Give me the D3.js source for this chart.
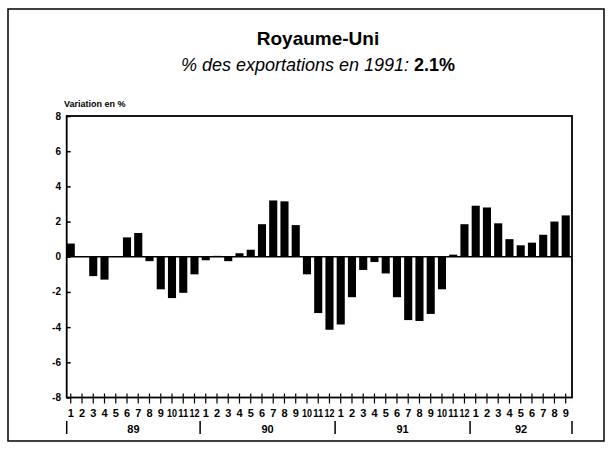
<html>
<head>
<script src="https://d3js.org/d3.v7.min.js"></script>
<style>
  body { margin: 0; background: #fff; }
  text { font-family: "Liberation Sans", Arial, sans-serif; }
</style>
</head>
<body>
<div id="chart"></div>
<script>
// monthly values, Jan 89 .. Sep 92
var years = ["89", "90", "91", "92"];
var monthsPerYear = [12, 12, 12, 9];
var values89 = [0.75, 0.0, -1.1, -1.3, 0.0, 1.1, 1.35, -0.25, -1.85, -2.35, -2.05, -1.0];
var values90 = [-0.2, 0.05, -0.25, 0.2, 0.4, 1.85, 3.2, 3.15, 1.8, -1.0, -3.2, -4.15];
var values91 = [-3.85, -2.3, -0.75, -0.3, -0.95, -2.3, -3.6, -3.65, -3.25, -1.85, 0.12, 1.85];
var values92 = [2.9, 2.8, 1.9, 1.0, 0.65, 0.8, 1.25, 2.0, 2.35];
var yTicks = [8, 6, 4, 2, 0, -2, -4, -6, -8];

// flatten into one list of bars
var data = [];
[values89, values90, values91, values92].forEach(function(vals, yi) {
  vals.forEach(function(v, mi) {
    data.push({ key: years[yi] + "-" + (mi + 1), year: years[yi], month: mi + 1, value: v });
  });
});

var W = 612, H = 451;
// note: "top" is taken by window.top, so plot edges get their own names
var plotLeft = 66.7, plotRight = 572, plotTop = 116, plotBottom = 397.5;

var svg = d3.select("#chart").append("svg")
  .attr("width", W)
  .attr("height", H);

// outer border
svg.append("rect")
  .attr("x", 8).attr("y", 9)
  .attr("width", 596).attr("height", 432)
  .attr("fill", "none")
  .attr("stroke", "#000")
  .attr("stroke-width", 1.5);

var x = d3.scaleBand()
  .domain(data.map(function(d) { return d.key; }))
  .range([plotLeft, plotRight])
  .paddingInner(0.28)
  .paddingOuter(0.1)
  .align(0);

var y = d3.scaleLinear().domain([-8, 8]).range([plotBottom, plotTop]);

// titles
svg.append("text")
  .attr("x", 318).attr("y", 45)
  .attr("text-anchor", "middle")
  .style("font-size", "19px").style("font-weight", "bold")
  .text("Royaume-Uni");

var sub = svg.append("text")
  .attr("x", 318).attr("y", 71)
  .attr("text-anchor", "middle")
  .style("font-size", "18px");
sub.append("tspan").style("font-style", "italic").text("% des exportations en 1991: ");
sub.append("tspan").style("font-weight", "bold").text("2.1%");

svg.append("text")
  .attr("x", 64).attr("y", 107)
  .style("font-size", "9px").style("font-weight", "bold")
  .text("Variation en %");

// bars
svg.selectAll("rect.bar")
  .data(data)
  .enter().append("rect")
  .attr("class", "bar")
  .attr("x", function(d) { return x(d.key); })
  .attr("width", x.bandwidth())
  .attr("y", function(d) { return y(Math.max(0, d.value)); })
  .attr("height", function(d) { return Math.abs(y(d.value) - y(0)); })
  .attr("fill", "#000");

// zero line
svg.append("line")
  .attr("x1", plotLeft).attr("x2", plotRight)
  .attr("y1", y(0)).attr("y2", y(0))
  .attr("stroke", "#000").attr("stroke-width", 1.5);

// y axis, ticks pointing inwards
var yAxis = svg.append("g")
  .attr("transform", "translate(" + plotLeft + ",0)")
  .call(d3.axisRight(y).tickValues(yTicks).tickSize(4).tickFormat(""));
yAxis.select(".domain").remove();
yAxis.selectAll("line").attr("stroke-width", 1.5);

svg.selectAll("text.ylab")
  .data(yTicks)
  .enter().append("text")
  .attr("class", "ylab")
  .attr("x", 61)
  .attr("y", function(d) { return y(d) + 3.5; })
  .attr("text-anchor", "end")
  .style("font-size", "10px").style("font-weight", "bold")
  .text(function(d) { return d; });

// plot frame
svg.append("rect")
  .attr("x", plotLeft).attr("y", plotTop)
  .attr("width", plotRight - plotLeft).attr("height", plotBottom - plotTop)
  .attr("fill", "none")
  .attr("stroke", "#000")
  .attr("stroke-width", 1.8);

// x ticks crossing the bottom axis
svg.selectAll("line.xtick")
  .data(data)
  .enter().append("line")
  .attr("class", "xtick")
  .attr("x1", function(d) { return x(d.key) + x.bandwidth() / 2; })
  .attr("x2", function(d) { return x(d.key) + x.bandwidth() / 2; })
  .attr("y1", plotBottom - 4).attr("y2", plotBottom + 6)
  .attr("stroke", "#000").attr("stroke-width", 1.2);

svg.selectAll("text.mlab")
  .data(data)
  .enter().append("text")
  .attr("class", "mlab")
  .attr("x", function(d) { return x(d.key) + x.bandwidth() / 2; })
  .attr("y", 417)
  .attr("text-anchor", "middle")
  .attr("textLength", function(d) { return d.month > 9 ? 10 : null; })
  .attr("lengthAdjust", "spacingAndGlyphs")
  .style("font-size", "11px").style("font-weight", "bold")
  .text(function(d) { return d.month; });

// year separators and labels
var starts = [], idx = 0;
monthsPerYear.forEach(function(n) { starts.push(idx); idx += n; });
var sepX = starts.map(function(s) { return s === 0 ? plotLeft : x(data[s].key) - (x.step() - x.bandwidth()) / 2; });
sepX.push(plotRight);

svg.selectAll("line.ysep")
  .data(sepX)
  .enter().append("line")
  .attr("class", "ysep")
  .attr("x1", function(d) { return d; }).attr("x2", function(d) { return d; })
  .attr("y1", 421).attr("y2", 434)
  .attr("stroke", "#000").attr("stroke-width", 1.5);

svg.selectAll("text.yrlab")
  .data(years)
  .enter().append("text")
  .attr("class", "yrlab")
  .attr("x", function(d, i) { return (sepX[i] + sepX[i + 1]) / 2; })
  .attr("y", 433)
  .attr("text-anchor", "middle")
  .style("font-size", "11px").style("font-weight", "bold")
  .text(function(d) { return d; });
</script>
</body>
</html>
